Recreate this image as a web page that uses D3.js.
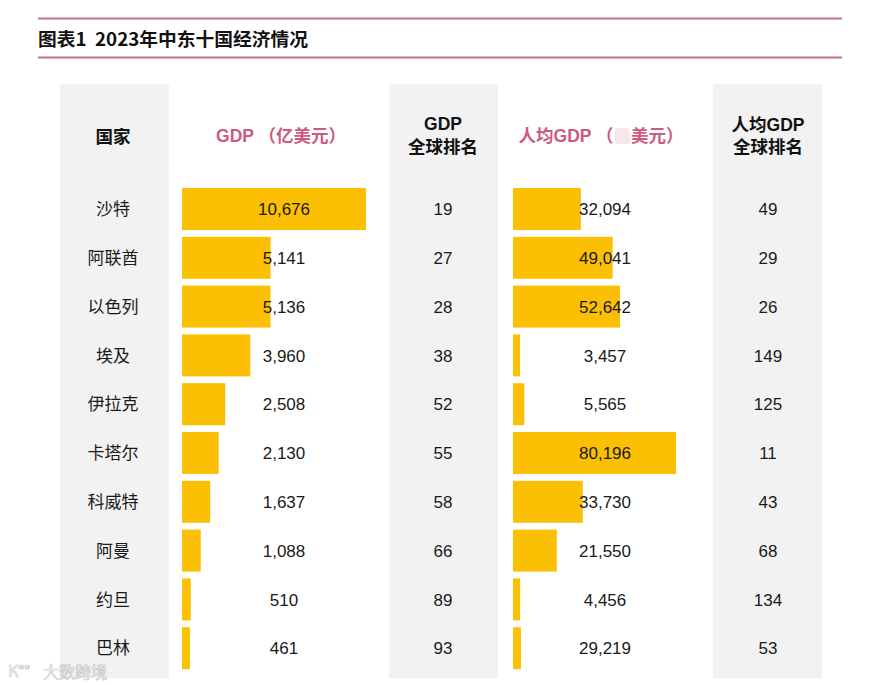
<!DOCTYPE html>
<html>
<head>
<meta charset="utf-8">
<script src="https://cdn.jsdelivr.net/npm/d3@7"></script>
<style>
  body { margin: 0; background: #fff; }
  svg { display: block; }
</style>
</head>
<body>
<div id="chart"></div>
<script>
// data
var countries = ['沙特', '阿联酋', '以色列', '埃及', '伊拉克', '卡塔尔', '科威特', '阿曼', '约旦', '巴林'];
var gdp = [10676, 5141, 5136, 3960, 2508, 2130, 1637, 1088, 510, 461];
var gdpRank = [19, 27, 28, 38, 52, 55, 58, 66, 89, 93];
var perCapita = [32094, 49041, 52642, 3457, 5565, 80196, 33730, 21550, 4456, 29219];
// bar lengths as drawn in the source (the 巴林 bar is much shorter than its label)
var perCapitaBar = [33400, 49041, 52642, 3457, 5565, 80196, 34300, 21550, 3500, 3900];
var perCapitaRank = [49, 29, 26, 149, 125, 11, 43, 68, 134, 53];

var width = 872;
var height = 685;

var rose = '#c07584';
var pink = '#cc5a7e';
var gold = '#fbbf04';
var grey = '#f2f2f2';
var numFont = '"Liberation Sans", Arial, "Noto Sans CJK SC", sans-serif';

var svg = d3.select('#chart')
  .append('svg')
  .attr('width', width)
  .attr('height', height);

// rows
var y = d3.scaleBand()
  .domain(countries)
  .range([184.6, 672.6])
  .paddingInner(0.14)
  .paddingOuter(0.07);

var gdpX = d3.scaleLinear()
  .domain([0, d3.max(gdp)])
  .range([182, 366]);

var pcX = d3.scaleLinear()
  .domain([0, d3.max(perCapitaBar)])
  .range([513, 676]);

// column centres
var colCountry = 113;
var colGdp = 284;
var colGdpRank = 443;
var colPc = 605;
var colPcRank = 768;

// grey column backgrounds
var greyCols = [[60, 169], [389, 498], [713, 822]];
svg.selectAll('.col-bg')
  .data(greyCols)
  .enter()
  .append('rect')
  .attr('class', 'col-bg')
  .attr('x', function(d) { return d[0]; })
  .attr('y', 84)
  .attr('width', function(d) { return d[1] - d[0]; })
  .attr('height', 678 - 84)
  .attr('fill', grey);

// title block
svg.selectAll('.rule')
  .data([18.5, 57.5])
  .enter()
  .append('line')
  .attr('x1', 38).attr('x2', 842)
  .attr('y1', function(d) { return d; })
  .attr('y2', function(d) { return d; })
  .attr('stroke', rose)
  .attr('stroke-width', 2);

svg.append('text')
  .attr('x', 38)
  .attr('y', 46)
  .attr('font-family', '"Noto Sans CJK SC", sans-serif')
  .attr('font-weight', 'bold')
  .attr('font-size', 18)
  .attr('fill', '#111')
  .attr('textLength', 270)
  .attr('lengthAdjust', 'spacingAndGlyphs')
  .attr('xml:space', 'preserve')
  .text('图表1  2023年中东十国经济情况');

// headers
var head = svg.append('g')
  .attr('font-family', numFont)
  .attr('font-weight', 'bold')
  .attr('font-size', 17.5)
  .attr('text-anchor', 'middle');

head.append('text')
  .attr('x', colCountry).attr('y', 143)
  .attr('fill', '#111')
  .text('国家');

head.append('text')
  .attr('x', colGdp - 3).attr('y', 142)
  .attr('fill', pink)
  .attr('xml:space', 'preserve')
  .text('GDP （亿美元）');

[['GDP', 130], ['全球排名', 153]].forEach(function(t) {
  head.append('text')
    .attr('x', colGdpRank).attr('y', t[1])
    .attr('fill', '#111')
    .text(t[0]);
});

[['人均GDP', 131], ['全球排名', 153]].forEach(function(t) {
  head.append('text')
    .attr('x', colPcRank).attr('y', t[1])
    .attr('fill', '#111')
    .text(t[0]);
});

// 人均GDP header with the blurred character patch
var pcHead = head.append('text')
  .attr('x', colPc - 4).attr('y', 142)
  .attr('fill', pink)
  .attr('xml:space', 'preserve');
pcHead.append('tspan').text('人均GDP （');
var blank = pcHead.append('tspan').text('　');
pcHead.append('tspan').text('美元）');

var bb = blank.node().getBBox();
head.insert('rect', ':first-child')
  .attr('x', bb.x + 1)
  .attr('y', 128)
  .attr('width', bb.width - 2)
  .attr('height', 16)
  .attr('rx', 3)
  .attr('fill', '#f6e7eb');

// bars
svg.selectAll('.gdp-bar')
  .data(gdp)
  .enter()
  .append('rect')
  .attr('class', 'gdp-bar')
  .attr('x', gdpX(0))
  .attr('y', function(d, i) { return y(countries[i]); })
  .attr('width', function(d) { return gdpX(d) - gdpX(0); })
  .attr('height', y.bandwidth())
  .attr('fill', gold);

svg.selectAll('.pc-bar')
  .data(perCapitaBar)
  .enter()
  .append('rect')
  .attr('class', 'pc-bar')
  .attr('x', pcX(0))
  .attr('y', function(d, i) { return y(countries[i]); })
  .attr('width', function(d) { return pcX(d) - pcX(0); })
  .attr('height', y.bandwidth())
  .attr('fill', gold);

// cell text
var fmt = d3.format(',');
var columns = [
  { x: colCountry, values: countries, f: function(d) { return d; } },
  { x: colGdp, values: gdp, f: fmt },
  { x: colGdpRank, values: gdpRank, f: String },
  { x: colPc, values: perCapita, f: fmt },
  { x: colPcRank, values: perCapitaRank, f: String }
];

columns.forEach(function(col) {
  svg.append('g')
    .selectAll('text')
    .data(col.values)
    .enter()
    .append('text')
    .attr('x', col.x)
    .attr('y', function(d, i) { return y(countries[i]) + y.bandwidth() / 2; })
    .attr('dy', '0.36em')
    .attr('text-anchor', 'middle')
    .attr('font-family', numFont)
    .attr('font-size', 17)
    .attr('fill', '#1a1a1a')
    .text(col.f);
});

// watermark
var wm = svg.append('g')
  .attr('font-family', '"Noto Sans CJK SC", sans-serif')
  .attr('font-size', 16)
  .attr('fill', '#fff')
  .attr('stroke', '#c4c4c4')
  .attr('stroke-width', 0.7)
  .attr('opacity', 0.9);
wm.append('text').attr('x', 8).attr('y', 677).attr('font-size', 16).text('K°°');
wm.append('text').attr('x', 43).attr('y', 678).text('大数跨境');
</script>
</body>
</html>
